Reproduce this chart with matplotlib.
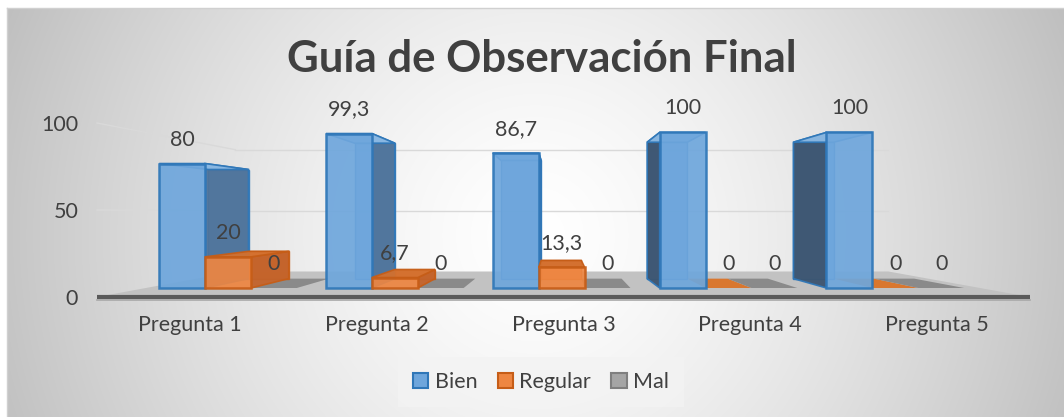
import numpy as np
import matplotlib
matplotlib.use('Agg')
import matplotlib.pyplot as plt
from matplotlib.patches import Polygon, Patch

# ---------------- data ----------------
title = 'Guía de Observación Final'
categories = ['Pregunta 1', 'Pregunta 2', 'Pregunta 3', 'Pregunta 4', 'Pregunta 5']
bien = [80, 99.3, 86.7, 100, 100]
regular = [20, 6.7, 13.3, 0, 0]
mal = [0, 0, 0, 0, 0]
series_names = ['Bien', 'Regular', 'Mal']
y_ticks = [0, 50, 100]

plt.rcParams['font.family'] = ['Lato', 'DejaVu Sans']
TXT = '#404040'
FS = 15.5

def fmt(v):
    return ('%g' % v).replace('.', ',')

# ---------------- figure ----------------
W, H = 1064, 417
fig = plt.figure(figsize=(W / 100, H / 100), dpi=100)

# radial gradient chart-area background
bg = fig.add_axes([7 / W, 0, (W - 7) / W, (H - 8) / H])
bh, bw = H - 8, W - 7
yy, xx = np.mgrid[0:bh, 0:bw]
cx, cy = 535 - 7, 235 - 8
r = np.hypot(xx - cx, yy - cy) / np.hypot(cx, cy)
r = np.clip(r, 0, 1)
g = 255 - 64 * r ** 1.4
img = np.dstack([g, g, g]).astype(np.uint8)
bg.imshow(img, aspect='auto', interpolation='bilinear')
bg.set_xticks([]); bg.set_yticks([])
for s in bg.spines.values():
    s.set_color('#d0d0d0'); s.set_linewidth(1)
bg.spines['right'].set_visible(False)
bg.spines['bottom'].set_visible(False)

# main axes: front plane, x in category units, y in value units
left_px, right_px, base_px, top_px = 97, 1030, 297, 123
ax = fig.add_axes([left_px / W, (H - base_px) / H,
                   (right_px - left_px) / W, (base_px - top_px) / H])
ax.set_xlim(0, len(categories))
ax.set_ylim(0, 100)
ax.patch.set_visible(False)
for s in ax.spines.values():
    s.set_visible(False)

# perspective: vanishing point (in data coords) and depth scales
Vc = (558 - left_px) / ((right_px - left_px) / len(categories))
Vv = (base_px - 212) / ((base_px - top_px) / 100)
S_FRONT, S_B1, S_B2, S_WALL = 1.0, 0.894, 0.784, 0.70

def P(c, v, s):
    return (Vc + s * (c - Vc), Vv + s * (v - Vv))

def poly(pts, **kw):
    kw.setdefault('clip_on', False)
    ax.add_patch(Polygon(pts, closed=True, **kw))

n = len(categories)
# floor
poly([P(0, 0, S_FRONT), P(n, 0, S_FRONT), P(n, 0, S_WALL), P(0, 0, S_WALL)],
     facecolor='#c2c2c2', edgecolor='none', zorder=1)
ax.plot([0, n], [0, 0], color='#5a5a5a', lw=3, solid_capstyle='butt',
        clip_on=False, zorder=2)
ax.plot([0, n], [-1.6, -1.6], color='#a8a8a8', lw=1.2, clip_on=False, zorder=2)

# gridlines (back wall + left wall)
for v in y_ticks[1:]:
    a, b = P(0, v, S_WALL), P(n, v, S_WALL)
    ax.plot([a[0], b[0]], [a[1], b[1]], color='#d9d9d9', lw=1, clip_on=False, zorder=1)
    f = P(0, v, S_FRONT)
    ax.plot([f[0], a[0]], [f[1], a[1]], color='#d9d9d9', lw=1, clip_on=False, zorder=1)

slots = [(0.08, 0.355), (0.355, 0.63), (0.63, 0.905)]
styles = [
    dict(face='#6ea6dc', edge='#2f77b8', side_r='#4f739a', side_l='#3c546f', top='#8cbbe6', flat='#5b8fc4'),
    dict(face='#ee8641', edge='#c65d17', side_r='#c2622a', side_l='#b0561f', top='#d3702f', flat='#d9772f'),
    dict(face='#a5a5a5', edge='#7f7f7f', side_r='#8a8a8a', side_l='#7a7a7a', top='#8c8c8c', flat='#8a8a8a'),
]
all_series = [bien, regular, mal]

def draw_box(c0, c1, v, st, z):
    F = lambda c, y: P(c, y, S_B1)
    B = lambda c, y: P(c, y, S_B2)
    if v <= 0:
        poly([F(c0, 0), F(c1, 0), B(c1, 0), B(c0, 0)], facecolor=st['flat'],
             edgecolor='none', zorder=z)
        return
    poly([B(c0, 0), B(c1, 0), B(c1, v), B(c0, v)], facecolor=st['face'],
         edgecolor=st['edge'], lw=1, alpha=0.9, zorder=z)
    if c1 < Vc:
        poly([F(c1, 0), B(c1, 0), B(c1, v), F(c1, v)], facecolor=st['side_r'],
             edgecolor=st['edge'], lw=1.2, alpha=0.95, zorder=z + 0.1)
    if c0 > Vc:
        poly([F(c0, 0), B(c0, 0), B(c0, v), F(c0, v)], facecolor=st['side_l'],
             edgecolor=st['edge'], lw=1.2, alpha=0.95, zorder=z + 0.1)
    poly([F(c0, v), F(c1, v), B(c1, v), B(c0, v)], facecolor=st['top'],
         edgecolor=st['edge'], lw=1.2, alpha=0.95, zorder=z + 0.2)
    poly([F(c0, 0), F(c1, 0), F(c1, v), F(c0, v)], facecolor=st['face'],
         edgecolor=st['edge'], lw=1.8, alpha=0.92, zorder=z + 0.3)

for j in range(n):
    for i, vals in enumerate(all_series):
        c0, c1 = j + slots[i][0], j + slots[i][1]
        v = vals[j]
        z = 3 if v <= 0 else 5 + i
        draw_box(c0, c1, v, styles[i], z)
        tx, ty = P((c0 + c1) / 2, v, S_B1)
        ax.annotate(fmt(v), (tx, ty), xytext=(0, 17.3), textcoords='offset points',
                    ha='center', va='center', fontsize=FS, color=TXT,
                    zorder=20, annotation_clip=False)

# axes ticks
ax.set_yticks(y_ticks)
ax.set_yticklabels([str(t) for t in y_ticks])
ax.tick_params(axis='y', length=0, pad=13.5, labelsize=FS, labelcolor=TXT)
ax.set_xticks([j + 0.5 for j in range(n)])
ax.set_xticklabels(categories)
ax.tick_params(axis='x', length=0, pad=13, labelsize=FS, labelcolor=TXT)

# title
fig.text(542 / W, 1 - 59 / H, title, ha='center', va='center',
         fontsize=31.5, fontweight='bold', color=TXT)

# legend
handles = [Patch(facecolor=styles[i]['face'], edgecolor=styles[i]['edge'], lw=1.5)
           for i in range(3)]
leg = fig.legend(handles, series_names, loc='center', bbox_to_anchor=(541 / W, 1 - 382 / H),
                 ncol=3, frameon=True, fontsize=FS, handlelength=0.7, handleheight=0.7,
                 handletextpad=0.3, columnspacing=0.95, borderpad=0.7, fancybox=False)
leg.get_frame().set_facecolor('#f3f3f3')
leg.get_frame().set_edgecolor('none')
for t in leg.get_texts():
    t.set_color(TXT)

fig.savefig('out.png', dpi=100)
